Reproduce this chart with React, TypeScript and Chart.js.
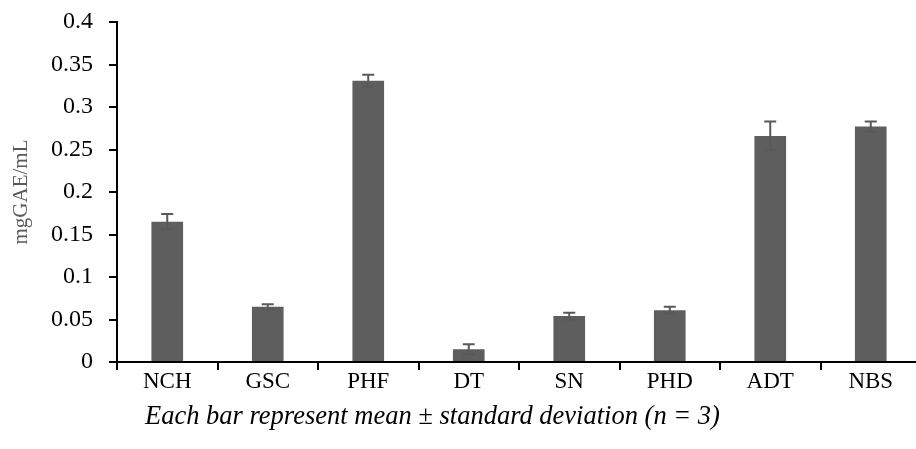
import React, { useEffect, useRef } from "react";
import { Chart, registerables } from "chart.js";

Chart.register(...registerables);

const categories = ["NCH", "GSC", "PHF", "DT", "SN", "PHD", "ADT", "NBS"];
const means = [0.165, 0.065, 0.331, 0.015, 0.054, 0.061, 0.266, 0.277];
const sds = [0.009, 0.003, 0.007, 0.006, 0.004, 0.004, 0.017, 0.006];
const yTicks = [0, 0.05, 0.1, 0.15, 0.2, 0.25, 0.3, 0.35, 0.4];
const yTitle = "mgGAE/mL";
const caption = "Each bar represent mean \u00b1 standard deviation (n = 3)";

const SERIF = '"Liberation Serif", "Times New Roman", serif';

const errorBarPlugin = {
  id: "errorBars",
  afterDatasetsDraw(chart: any) {
    const { ctx } = chart;
    const y = chart.scales.y;
    const meta = chart.getDatasetMeta(0);
    ctx.save();
    ctx.strokeStyle = "#595959";
    ctx.lineWidth = 2;
    meta.data.forEach((bar: any, i: number) => {
      const x = bar.x;
      const top = y.getPixelForValue(means[i] + sds[i]);
      const bot = y.getPixelForValue(means[i] - sds[i]);
      ctx.beginPath();
      ctx.moveTo(x, top);
      ctx.lineTo(x, bot);
      ctx.moveTo(x - 6, top);
      ctx.lineTo(x + 6, top);
      ctx.moveTo(x - 6, bot);
      ctx.lineTo(x + 6, bot);
      ctx.stroke();
    });
    ctx.restore();
  },
};

export default function App() {
  const ref = useRef<HTMLCanvasElement | null>(null);

  useEffect(() => {
    document.body.style.margin = "0";
    const canvas = ref.current;
    if (!canvas) return;
    const chart = new Chart(canvas, {
      type: "bar",
      data: {
        labels: categories,
        datasets: [
          {
            data: means,
            backgroundColor: "#5e5e5e",
            borderWidth: 0,
            barPercentage: 0.315,
            categoryPercentage: 1,
          },
        ],
      },
      options: {
        responsive: false,
        animation: false,
        devicePixelRatio: 1,
        layout: { padding: { top: 22, left: 0, right: 0, bottom: 0 } },
        plugins: {
          legend: { display: false },
          tooltip: { enabled: false },
          title: { display: false },
        },
        scales: {
          x: {
            type: "category",
            afterFit: (s: any) => {
              s.height = 87;
              s.paddingLeft = 0;
              s.paddingRight = 0;
            },
            grid: {
              offset: true,
              drawOnChartArea: false,
              drawTicks: true,
              tickLength: 8,
              color: "#000",
              lineWidth: 2,
            },
            border: { display: true, color: "#000", width: 2 },
            ticks: {
              color: "#000",
              padding: -2,
              maxRotation: 0,
              font: { family: SERIF, size: 23 },
            },
          },
          y: {
            min: 0,
            max: 0.4,
            afterFit: (s: any) => {
              s.width = 117;
              s.paddingTop = 0;
              s.paddingBottom = 0;
            },
            afterBuildTicks: (s: any) => {
              s.ticks = yTicks.map((v) => ({ value: v }));
            },
            grid: {
              drawOnChartArea: false,
              drawTicks: true,
              tickLength: 8,
              color: "#000",
              lineWidth: 2,
            },
            border: { display: true, color: "#000", width: 2 },
            ticks: {
              color: "#000",
              padding: 16,
              font: { family: SERIF, size: 24 },
              callback: (v: any) => String(parseFloat(Number(v).toFixed(2))),
            },
            title: {
              display: true,
              text: yTitle,
              color: "#595959",
              font: { family: SERIF, size: 21 },
              padding: { top: 9, bottom: 0 },
            },
          },
        },
      },
      plugins: [errorBarPlugin],
    });
    return () => chart.destroy();
  }, []);

  return (
    <div style={{ position: "relative", width: 916, height: 449, overflow: "hidden", background: "#fff" }}>
      <canvas ref={ref} width={921} height={449} style={{ display: "block" }} />
      <div
        style={{
          position: "absolute",
          left: 145,
          top: 402,
          fontFamily: SERIF,
          fontStyle: "italic",
          fontSize: 26.5,
          lineHeight: "26px",
          whiteSpace: "nowrap",
          color: "#000",
        }}
      >
        {caption}
      </div>
    </div>
  );
}
